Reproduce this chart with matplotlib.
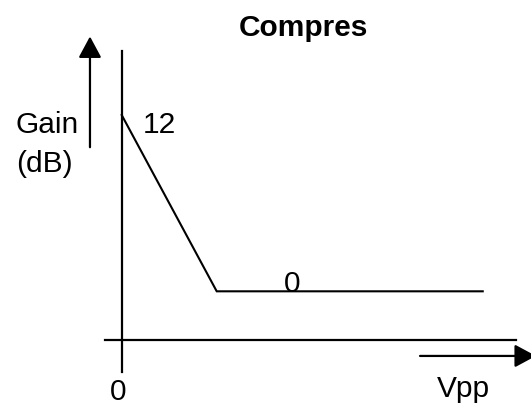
import matplotlib
matplotlib.use("Agg")
import matplotlib.pyplot as plt

plt.rcParams["font.family"] = ["Liberation Sans", "DejaVu Sans"]

# compressor gain curve (schematic): gain in dB vs input Vpp
vpp  = [0.0, 1.0, 3.8]
gain = [12, 0, 0]

title = "Compres"
lbl_12, lbl_0 = "12", "0"

fig = plt.figure(figsize=(5.31, 4.06), dpi=100)
ax = fig.add_axes([0, 0, 1, 1])
ax.set_xlim(-1.281, 4.308)
ax.set_ylim(-7.74, 19.90)

ax.plot(vpp, gain, color="black", lw=1.5, solid_joinstyle="miter")

# hand-drawn style axes
ax.spines["left"].set_position(("data", 0))
ax.spines["left"].set_bounds(-5.49, 16.36)
ax.spines["bottom"].set_position(("data", -3.29))
ax.spines["bottom"].set_bounds(-0.176, 4.15)
for k in ["left", "bottom"]:
    ax.spines[k].set_linewidth(1.6)
for k in ["top", "right"]:
    ax.spines[k].set_visible(False)
ax.set_xticks([]); ax.set_yticks([])
ax.patch.set_alpha(0)

# direction arrows
ap = dict(arrowstyle="-|>,head_length=0.65,head_width=0.35", color="black",
          lw=1.6, shrinkA=0, shrinkB=0, mutation_scale=20)
ax.annotate("", xy=(-0.334, 17.35), xytext=(-0.334, 9.81), arrowprops=ap)
ax.annotate("", xy=(4.36, -4.40), xytext=(3.14, -4.40), arrowprops=ap,
            annotation_clip=False)

fs = 21.5
ax.text(1.908, 17.45, title, ha="center", va="baseline", fontsize=fs,
        fontweight="bold")
ax.text(-1.113, 10.84, "Gain", ha="left", va="baseline", fontsize=fs)
ax.text(-1.113, 8.21, "(dB)", ha="left", va="baseline", fontsize=fs)
ax.text(0.224, 10.84, lbl_12, ha="left", va="baseline", fontsize=fs)
ax.text(1.793, 0.0, lbl_0, ha="center", va="baseline", fontsize=fs)
ax.text(-0.039, -7.33, "0", ha="center", va="baseline", fontsize=fs)
ax.text(3.32, -7.13, "Vpp", ha="left", va="baseline", fontsize=fs)

fig.savefig("out.png", dpi=100, facecolor="white")
